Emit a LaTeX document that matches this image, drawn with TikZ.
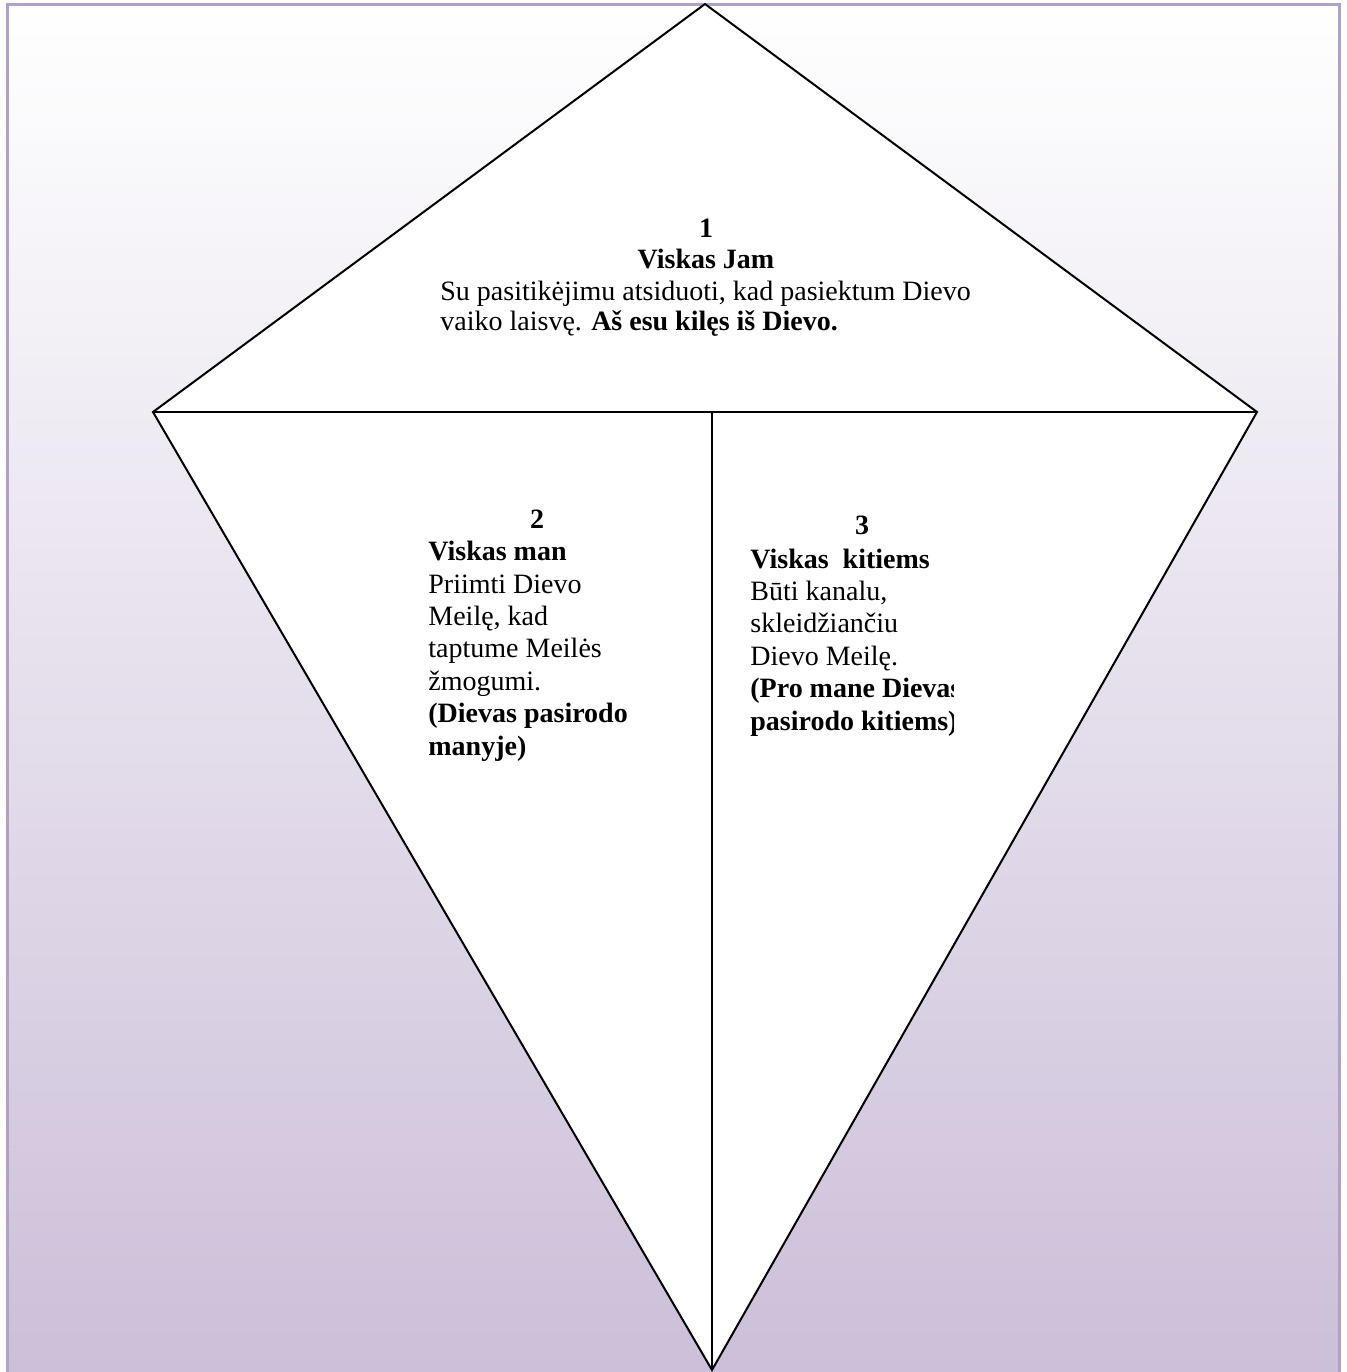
\documentclass[tikz,border=0pt]{standalone}
\usepackage{fontspec}
\setmainfont{Liberation Serif}
\usetikzlibrary{positioning}
\definecolor{framelilac}{RGB}{178,161,199}
\definecolor{bglilac}{RGB}{204,191,217}
\tikzstyle{kiteline} = [draw=black, line width=1pt, line join=miter]
\tikzstyle{heading}  = [inner sep=0pt, anchor=base, font=\fontsize{14}{16}\selectfont\bfseries]
\tikzstyle{body}     = [inner sep=0pt, anchor=base west, align=left, font=\fontsize{14}{16.2}\selectfont]

\begin{document}
\begin{tikzpicture}[x=0.5pt, y=-0.5pt]
            \useasboundingbox (0,0) rectangle (1346,1372);
            \begin{scope}
                \clip (0,0) rectangle (1346,1372);
                \shade[top color=white, bottom color=bglilac] (7,4) rectangle (1339,1372);
                \draw[framelilac, line width=1.5pt] (7,1380) -- (7,4) -- (1339,4) -- (1339,1380);
            \end{scope}

            \coordinate (top)    at (705,4);
            \coordinate (left)   at (153,412);
            \coordinate (right)  at (1257,412);
            \coordinate (bottom) at (712,1370);
            \coordinate (mid)    at (712,412);

            \filldraw[kiteline, fill=white] (top) -- (right) -- (bottom) -- (left) -- cycle;
            \draw[kiteline] (left) -- (right);
            \draw[kiteline] (mid) -- (bottom);

            % base anchor of a multi-line node = baseline of its last line
            \node[heading] (num1)  at (706,237) {1};
            \node[heading] (head1) at (706,268) {Viskas Jam};
            \node[body, font=\fontsize{14}{15}\selectfont] (body1) at (440,330)
                {Su pasitikėjimu atsiduoti, kad pasiektum Dievo\\
                 vaiko laisvę. \textbf{Aš esu kilęs iš Dievo.}};

            \node[heading] (num2)  at (537,528) {2};
            \node[body] (body2) at (428,755)
                {\textbf{Viskas man}\\ Priimti Dievo\\ Meilę, kad\\ taptume Meilės\\ žmogumi.\\
                 \textbf{(Dievas pasirodo}\\ \textbf{manyje)}};

            \node[heading] (num3)  at (862,534) {3};
            \begin{scope}
                \clip (740,420) rectangle (953,800);
                \node[body] (body3) at (750,730)
                    {\textbf{Viskas\ \ kitiems}\\ Būti kanalu,\\ skleidžiančiu\\ Dievo Meilę.\\
                     \textbf{(Pro mane Dievas}\\ \textbf{pasirodo kitiems)}};
            \end{scope}
        \end{tikzpicture}
\end{document}
